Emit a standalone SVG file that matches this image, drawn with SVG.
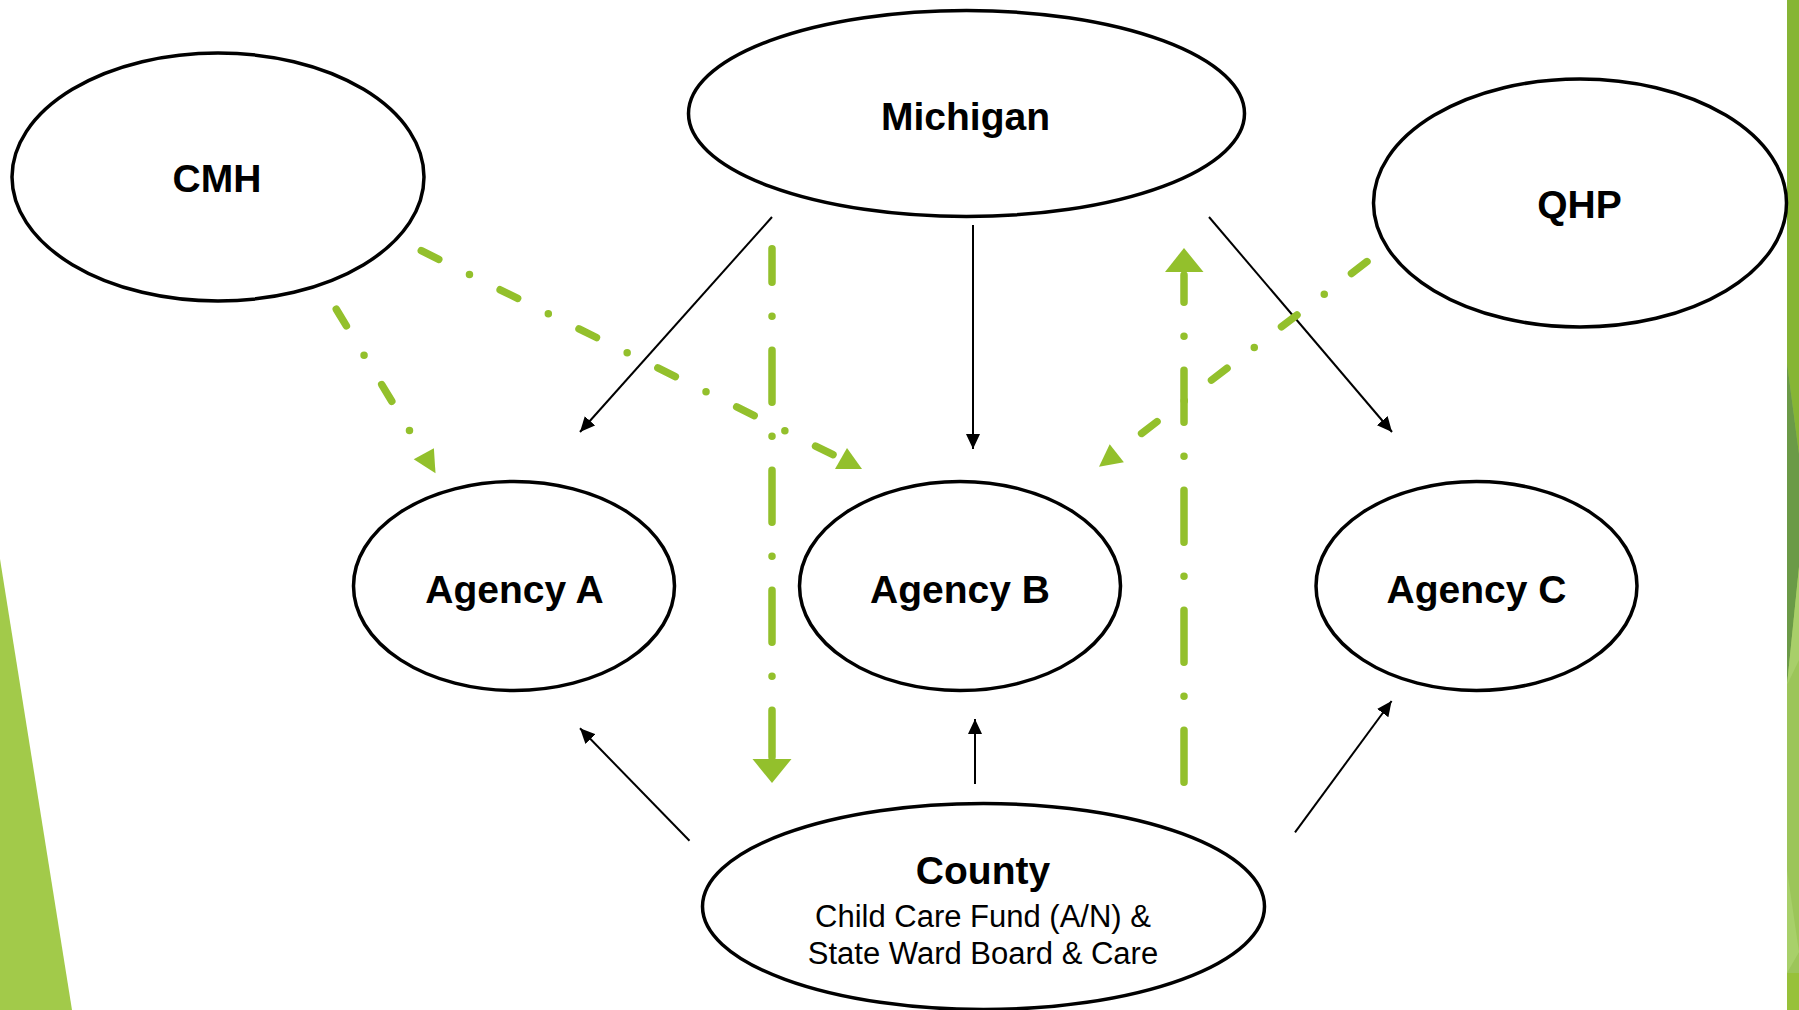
<svg xmlns="http://www.w3.org/2000/svg" width="1799" height="1010" viewBox="0 0 1799 1010">
  <style>
    .node { fill: #ffffff; stroke: #000000; stroke-width: 3.5; }
    .title { font-family: "Liberation Sans", Arial, sans-serif; font-weight: bold; font-size: 39px; fill: #000000; text-anchor: middle; }
    .sub { font-family: "Liberation Sans", Arial, sans-serif; font-size: 31px; fill: #000000; text-anchor: middle; }
    .blk { stroke: #000000; stroke-width: 2; fill: none; marker-end: url(#arrow); }
    .grn { stroke: #93C02C; stroke-width: 7.5; fill: none; stroke-linecap: round; }
    .gdiag { stroke-dasharray: 19.5 34.25 0 34.25; }
    .gvert { stroke-dasharray: 52 34 0 34; }
    .ghead { fill: #93C02C; stroke: none; }
  </style>
  <defs>
    <marker id="arrow" markerUnits="userSpaceOnUse" markerWidth="16" markerHeight="14" refX="15" refY="7" orient="auto">
      <path d="M0,0 L15,7 L0,14 z" fill="#000000"/>
    </marker>
  </defs>

  <rect x="0" y="0" width="1799" height="1010" fill="#ffffff"/>

  <g id="decor">
    <polygon points="0,559 72,1010 0,1010" fill="#A2CA4A"/>
    <rect x="1787" y="0" width="12" height="1010" fill="#9CC55A"/>
    <polygon points="1787,0 1799,0 1799,454 1787,363" fill="#86B535"/>
    <polygon points="1787,363 1799,454 1799,567 1787,685" fill="#6B9A47"/>
    <polygon points="1787,685 1799,567 1799,660" fill="#A8CF6A"/>
    <polygon points="1787,870 1799,952 1787,973" fill="#A8D06A"/>
    <rect x="1787" y="973" width="12" height="37" fill="#97C13A"/>
  </g>

  <g id="connectors">
    <line class="blk" x1="772" y1="217" x2="580" y2="432"/>
    <line class="blk" x1="973" y1="225" x2="973" y2="449"/>
    <line class="blk" x1="1209" y1="217" x2="1392" y2="432"/>
    <line class="blk" x1="689.5" y1="840.7" x2="580" y2="728.3"/>
    <line class="blk" x1="975" y1="784" x2="975" y2="719"/>
    <line class="blk" x1="1295" y1="832.3" x2="1391.6" y2="701"/>

    <line class="grn gdiag" x1="336.3" y1="309.2" x2="424" y2="454.7"/>
    <polygon class="ghead" points="413.7,459.3 433.9,448.3 435.5,473.3"/>

    <line class="grn gdiag" x1="421.3" y1="250.7" x2="833" y2="454.7"/>
    <polygon class="ghead" points="835,469 862,469 847,448"/>

    <line class="grn gdiag" x1="1367" y1="261.6" x2="1141.6" y2="433.4"/>
    <polygon class="ghead" points="1099,466.7 1123.9,462.3 1109.7,444.3"/>

    <line class="grn gvert" x1="772" y1="248.75" x2="772" y2="757" stroke-dashoffset="18.5"/>
    <polygon class="ghead" points="752.5,759 791.5,759 772,783"/>

    <line class="grn gvert" x1="1184" y1="782.25" x2="1184" y2="275"/>
    <polygon class="ghead" points="1165,272 1203.5,272 1184,248"/>
  </g>

  <g id="node-cmh">
    <ellipse class="node" cx="218" cy="177" rx="206" ry="124"/>
    <text class="title" x="217" y="192">CMH</text>
  </g>
  <g id="node-michigan">
    <ellipse class="node" cx="966.5" cy="113.5" rx="278" ry="103"/>
    <text class="title" x="965.5" y="129.5">Michigan</text>
  </g>
  <g id="node-qhp">
    <ellipse class="node" cx="1580" cy="203" rx="206.5" ry="124"/>
    <text class="title" x="1579.5" y="218">QHP</text>
  </g>
  <g id="node-agency-a">
    <ellipse class="node" cx="514" cy="586" rx="160.5" ry="104.5"/>
    <text class="title" x="514.5" y="603">Agency A</text>
  </g>
  <g id="node-agency-b">
    <ellipse class="node" cx="960" cy="586" rx="160.5" ry="104.5"/>
    <text class="title" x="960" y="603">Agency B</text>
  </g>
  <g id="node-agency-c">
    <ellipse class="node" cx="1476.5" cy="586" rx="160.5" ry="104.5"/>
    <text class="title" x="1476.5" y="603">Agency C</text>
  </g>
  <g id="node-county">
    <ellipse class="node" cx="983.5" cy="906.5" rx="281" ry="103"/>
    <text class="title" x="983" y="884">County</text>
    <text class="sub" x="983" y="926.5">Child Care Fund (A/N) &amp;</text>
    <text class="sub" x="983" y="963.5">State Ward Board &amp; Care</text>
  </g>
</svg>
